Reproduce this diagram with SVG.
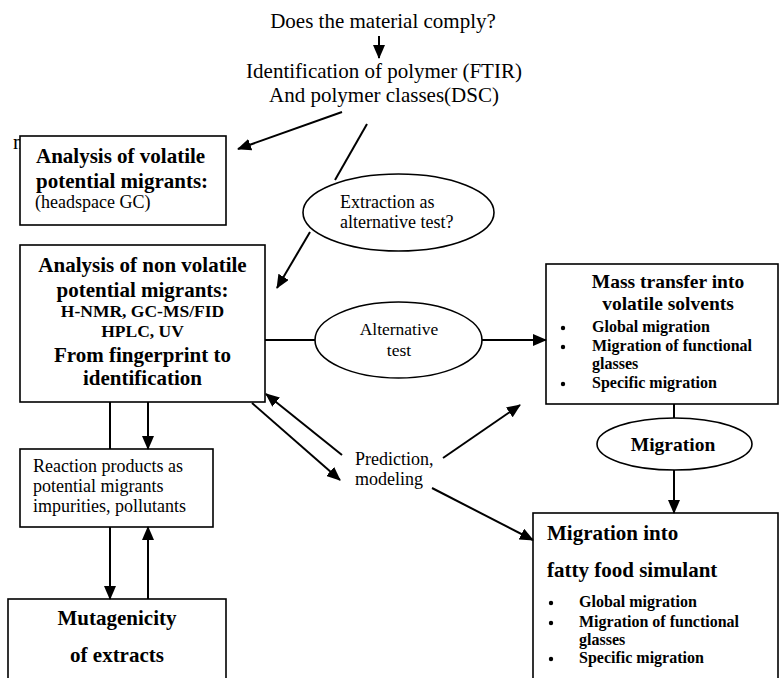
<svg xmlns="http://www.w3.org/2000/svg" width="779" height="678" viewBox="0 0 779 678">
<style>
text{font-family:"Liberation Serif","Times New Roman",serif;fill:#000}
.t{font-size:21px}
.r{font-size:18px}
.b{font-size:21px;font-weight:bold}
.bs{font-size:17.5px;font-weight:bold}
.bl{font-size:16px;font-weight:bold}
.c{text-anchor:middle}
.box{fill:#fff;stroke:#000;stroke-width:1.6}
.ell{fill:#fff;stroke:#000;stroke-width:1.6}
.ln{stroke:#000;stroke-width:2;fill:none}
.ar{stroke:#000;stroke-width:2;fill:none;marker-end:url(#ah)}
</style>
<defs>
<marker id="ah" viewBox="0 0 14 12" refX="13" refY="6" markerWidth="14" markerHeight="12" markerUnits="userSpaceOnUse" orient="auto">
<path d="M0,0 L14,6 L0,12 Z" fill="#000"/>
</marker>
</defs>
<rect width="779" height="678" fill="#fff"/>

<g id="stray"><text class="t" x="13" y="149">n</text></g>

<g id="top">
<text class="t c" x="383" y="28">Does the material comply?</text>
</g>
<g id="identification">
<text class="t c" x="384" y="78">Identification of polymer (FTIR)</text>
<text class="t c" x="384" y="102">And polymer classes(DSC)</text>
</g>

<g id="volatile">
<rect class="box" x="20" y="136" width="206" height="89"/>
<text class="b" x="36" y="163">Analysis of volatile</text>
<text class="b" x="36" y="188">potential migrants:</text>
<text class="r" x="35" y="208">(headspace GC)</text>
</g>

<g id="extraction">
<ellipse class="ell" cx="398.5" cy="212.5" rx="95.5" ry="38.5"/>
<text class="r" x="340" y="208">Extraction as</text>
<text class="r" x="340" y="228">alternative test?</text>
</g>

<g id="nonvolatile">
<rect class="box" x="20" y="245" width="245" height="157"/>
<text class="b c" x="142.5" y="272">Analysis of non volatile</text>
<text class="b c" x="142.5" y="297">potential migrants:</text>
<text class="bs c" x="142.5" y="317">H-NMR, GC-MS/FID</text>
<text class="bs c" x="142.5" y="337">HPLC, UV</text>
<text class="b c" x="142.5" y="362">From fingerprint to</text>
<text class="b c" x="142.5" y="385">identification</text>
</g>

<g id="alternative">
<ellipse class="ell" cx="398.5" cy="340" rx="83.5" ry="38"/>
<text class="r c" x="399" y="335" style="font-size:17.5px">Alternative</text>
<text class="r c" x="399" y="356" style="font-size:17.5px">test</text>
</g>

<g id="masstransfer">
<rect class="box" x="546" y="264" width="232" height="140"/>
<text class="b c" x="668" y="288" style="font-size:19.5px">Mass transfer into</text>
<text class="b c" x="668" y="310" style="font-size:19.5px">volatile solvents</text>
<circle cx="563" cy="328" r="2.2"/>
<text class="bl" x="592" y="332">Global migration</text>
<circle cx="563" cy="347" r="2.2"/>
<text class="bl" x="592" y="351">Migration of functional</text>
<text class="bl" x="592" y="369">glasses</text>
<circle cx="563" cy="384" r="2.2"/>
<text class="bl" x="592" y="388">Specific migration</text>
</g>

<g id="migration">
<ellipse class="ell" cx="674.5" cy="444" rx="77.5" ry="26"/>
<text class="b c" x="673" y="451" style="font-size:19.5px">Migration</text>
</g>

<g id="reaction">
<rect class="box" x="20" y="449" width="193" height="78"/>
<text class="r" x="33" y="472">Reaction products as</text>
<text class="r" x="33" y="492">potential migrants</text>
<text class="r" x="33" y="512">impurities, pollutants</text>
</g>

<g id="prediction">
<text class="r" x="355" y="465">Prediction,</text>
<text class="r" x="355" y="485">modeling</text>
</g>

<g id="mutagenicity">
<rect class="box" x="8" y="599" width="218" height="100"/>
<text class="b c" x="117" y="625">Mutagenicity</text>
<text class="b c" x="117" y="662">of extracts</text>
</g>

<g id="fatty">
<rect class="box" x="533" y="513" width="245" height="190"/>
<text class="b" x="547" y="540">Migration into</text>
<text class="b" x="547" y="577">fatty food simulant</text>
<circle cx="551" cy="603" r="2.2"/>
<text class="bl" x="579" y="607">Global migration</text>
<circle cx="551" cy="623" r="2.2"/>
<text class="bl" x="579" y="627">Migration of functional</text>
<text class="bl" x="579" y="645">glasses</text>
<circle cx="551" cy="659" r="2.2"/>
<text class="bl" x="579" y="663">Specific migration</text>
</g>

<g id="connectors">
<line class="ar" x1="379" y1="36" x2="379" y2="58"/>
<line class="ar" x1="342" y1="112" x2="238" y2="149"/>
<line class="ln" x1="367" y1="124" x2="335" y2="180"/>
<line class="ar" x1="310" y1="232" x2="277" y2="288"/>
<line class="ln" x1="265" y1="340" x2="315" y2="340"/>
<line class="ar" x1="482" y1="340" x2="546" y2="340"/>
<line class="ln" x1="110" y1="402" x2="110" y2="449"/>
<line class="ar" x1="148" y1="402" x2="148" y2="449"/>
<line class="ar" x1="110" y1="527" x2="110" y2="599"/>
<line class="ar" x1="148" y1="599" x2="148" y2="527"/>
<line class="ar" x1="342" y1="455" x2="266" y2="394"/>
<line class="ar" x1="252" y1="403" x2="340" y2="480"/>
<line class="ar" x1="443" y1="458" x2="520" y2="405"/>
<line class="ar" x1="432" y1="488" x2="533" y2="540"/>
<line class="ln" x1="674" y1="404" x2="674" y2="418"/>
<line class="ar" x1="674" y1="470" x2="674" y2="513"/>
</g>
</svg>
